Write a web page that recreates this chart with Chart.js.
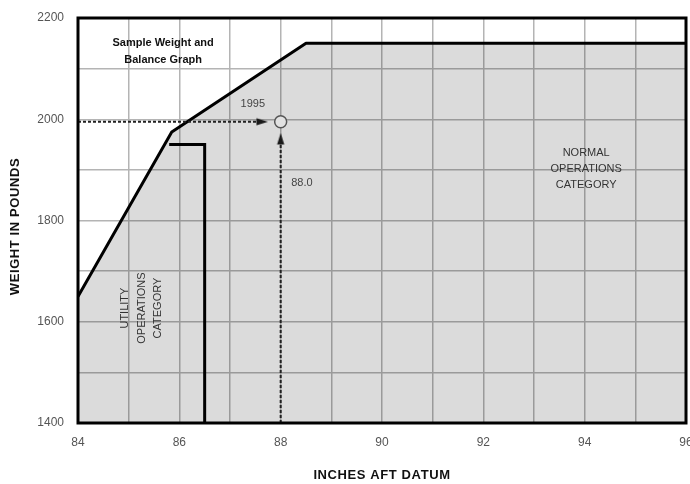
<!DOCTYPE html>
<html><head><meta charset="utf-8">
<script src="https://cdn.jsdelivr.net/npm/chart.js@4/dist/chart.umd.min.js"></script>
<style>html,body{margin:0;padding:0;background:#fff}#wrap{width:690px;height:484px}</style>
</head><body><div id="wrap"><canvas id="c" width="690" height="484"></canvas></div>
<script>
// ---- data ----
const xTickLabels = [84, 86, 88, 90, 92, 94, 96];
const yTickLabels = [1400, 1600, 1800, 2000, 2200];
const envelopeArm = [84, 85.85, 88.5, 96];
const envelopeWeight = [1650, 1975, 2150, 2150];
const utilityArm = [85.8, 86.5, 86.5];
const utilityWeight = [1950, 1950, 1400];
const sampleArm = 88.0;
const sampleWeight = 1995;
const weightArrowArm = [84, 87.63];      // dashed arrow from weight axis
const armArrowWeight = [1400, 1961];     // dashed arrow from arm axis
const xTitle = 'INCHES AFT DATUM';
const yTitle = 'WEIGHT IN POUNDS';

const FONT = "'Liberation Sans', Arial, sans-serif";

function arrowImage() {
  const c = document.createElement('canvas');
  c.width = 12; c.height = 12;
  const g = c.getContext('2d');
  g.fillStyle = '#1a1a1a';
  g.beginPath(); g.moveTo(6, 0); g.lineTo(9.6, 11.5); g.lineTo(2.4, 11.5); g.closePath(); g.fill();
  return c;
}
const arrow = arrowImage();

const pts = (xs, ys) => xs.map((x, i) => ({x, y: ys[i]}));

const overlay = {
  id: 'overlay',
  afterDatasetsDraw(chart) {
    const {ctx, chartArea: a, scales: {x, y}} = chart;
    ctx.save();
    ctx.strokeStyle = '#000'; ctx.lineWidth = 3;
    ctx.strokeRect(a.left, a.top, a.right - a.left, a.bottom - a.top);
    ctx.textAlign = 'center'; ctx.textBaseline = 'middle';
    const t = (s, ax, wy, font, color) => {
      ctx.font = font; ctx.fillStyle = color;
      ctx.fillText(s, x.getPixelForValue(ax), y.getPixelForValue(wy));
    };
    t('Sample Weight and', 85.68, 2150, 'bold 11px ' + FONT, '#111');
    t('Balance Graph', 85.68, 2118, 'bold 11px ' + FONT, '#111');
    t(String(sampleWeight), 87.45, 2031, '11px ' + FONT, '#444');
    t(sampleArm.toFixed(1), 88.42, 1874, '11px ' + FONT, '#444');
    t('NORMAL', 94.03, 1933, '11px ' + FONT, '#333');
    t('OPERATIONS', 94.03, 1902, '11px ' + FONT, '#333');
    t('CATEGORY', 94.03, 1870, '11px ' + FONT, '#333');
    const rot = (s, px, py, font, color) => {
      ctx.save();
      ctx.translate(px, py);
      ctx.rotate(-Math.PI / 2);
      ctx.font = font; ctx.fillStyle = color;
      ctx.fillText(s, 0, 0);
      ctx.restore();
    };
    rot('UTILITY', x.getPixelForValue(84.93), y.getPixelForValue(1627), '11px ' + FONT, '#333');
    rot('OPERATIONS', x.getPixelForValue(85.26), y.getPixelForValue(1627), '11px ' + FONT, '#333');
    rot('CATEGORY', x.getPixelForValue(85.58), y.getPixelForValue(1627), '11px ' + FONT, '#333');
    // axis titles
    ctx.letterSpacing = '0.6px';
    ctx.font = 'bold 13px ' + FONT; ctx.fillStyle = '#111';
    ctx.fillText(xTitle, (a.left + a.right) / 2, 475);
    ctx.save();
    ctx.translate(15, (a.top + a.bottom) / 2 + 6);
    ctx.rotate(-Math.PI / 2);
    ctx.fillText(yTitle, 0, 0);
    ctx.restore();
    ctx.restore();
  }
};

new Chart(document.getElementById('c'), {
  type: 'scatter',
  data: {
    datasets: [
      { data: pts(envelopeArm, envelopeWeight), showLine: true, borderColor: '#000', borderWidth: 3,
        fill: 'start', backgroundColor: 'rgba(0,0,0,0.14)', pointRadius: 0, order: 5, borderJoinStyle: 'round' },
      { data: pts(utilityArm, utilityWeight), showLine: true, borderColor: '#000', borderWidth: 3,
        fill: false, pointRadius: 0, order: 4 },
      { data: pts(weightArrowArm, [sampleWeight, sampleWeight]), showLine: true, borderColor: '#222', borderWidth: 2,
        borderDash: [3, 2], fill: false, pointRadius: [0, 6], pointStyle: arrow, pointRotation: 90, order: 3 },
      { data: pts([sampleArm, sampleArm], armArrowWeight), showLine: true, borderColor: '#222', borderWidth: 2,
        borderDash: [3, 2], fill: false, pointRadius: [0, 6], pointStyle: arrow, pointRotation: 0, order: 2 },
      { data: [{x: sampleArm, y: sampleWeight}], showLine: false, pointRadius: 6, pointBorderWidth: 1.5,
        pointBackgroundColor: '#e2e2e2', pointBorderColor: '#555', order: 1 }
    ]
  },
  options: {
    responsive: false, animation: false, devicePixelRatio: 1,
    layout: { autoPadding: false, padding: { top: 18, right: 4, left: 0, bottom: 0 } },
    plugins: { legend: { display: false }, tooltip: { enabled: false } },
    scales: {
      x: {
        type: 'linear', min: 84, max: 96,
        afterFit: s => { s.height = 61; s.paddingLeft = 0; s.paddingRight = 0; },
        border: { display: false },
        grid: { color: '#b4b4b4', lineWidth: 1.5, drawTicks: false },
        ticks: { stepSize: 1, autoSkip: false, maxRotation: 0, padding: 12, color: '#555',
          font: { family: FONT, size: 12 },
          callback: v => xTickLabels.includes(v) ? String(v) : '' },
        title: { display: false }
      },
      y: {
        type: 'linear', min: 1400, max: 2200,
        afterFit: s => { s.width = 78; s.paddingTop = 0; s.paddingBottom = 0; },
        border: { display: false },
        grid: { color: '#b4b4b4', lineWidth: 1.5, drawTicks: false },
        ticks: { stepSize: 100, autoSkip: false, padding: 14, color: '#555',
          font: { family: FONT, size: 12 },
          callback: v => yTickLabels.includes(v) ? String(v) : '' },
        title: { display: false }
      }
    }
  },
  plugins: [overlay]
});
</script></body></html>
